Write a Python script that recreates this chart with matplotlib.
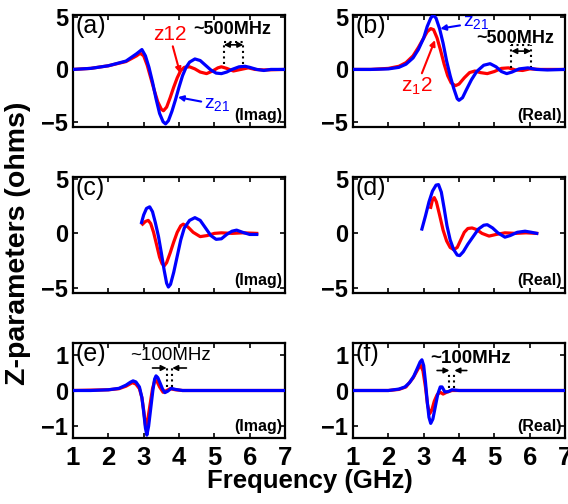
import matplotlib
matplotlib.use("Agg")
import matplotlib.pyplot as plt

plt.rcParams['font.family'] = ['Liberation Sans', 'DejaVu Sans']
plt.rcParams['mathtext.default'] = 'regular'

# ------------------------
# Data (frequency in GHz, Z in ohms)
# ------------------------
freq_ticks = [1, 2, 3, 4, 5, 6, 7]
big_yticks = [-5, 0, 5]
small_yticks = [-1, 0, 1]

# (a) imaginary part
a_blue_f = [1.0, 1.5, 2.0, 2.5, 2.8, 2.95, 3.05, 3.15, 3.25, 3.35, 3.45, 3.55, 3.62, 3.7, 3.8,
            3.9, 4.0, 4.1, 4.2, 4.3, 4.45, 4.6, 4.75, 4.9, 5.05, 5.2, 5.35, 5.5, 5.7, 5.87,
            6.0, 6.2, 6.4, 6.6, 7.0]
a_blue_z = [0.0, 0.1, 0.35, 0.8, 1.5, 1.9, 1.3, 0.2, -1.2, -2.8, -4.2, -5.0, -5.2, -4.9, -4.0,
            -2.9, -1.7, -0.6, 0.2, 0.7, 1.0, 0.85, 0.4, -0.05, -0.35, -0.4, -0.25, 0.0, 0.25, 0.3,
            0.2, 0.0, -0.1, 0.0, 0.0]
a_red_f = [1.0, 1.5, 2.0, 2.5, 2.8, 2.9, 3.0, 3.1, 3.2, 3.3, 3.4, 3.5, 3.56, 3.65, 3.75,
           3.85, 3.95, 4.05, 4.15, 4.3, 4.45, 4.6, 4.78, 4.95, 5.1, 5.2, 5.35, 5.54, 5.75, 5.96,
           6.15, 6.4, 7.0]
a_red_z = [0.0, 0.1, 0.35, 0.75, 1.3, 1.55, 1.3, 0.4, -0.8, -2.0, -3.1, -3.8, -3.95, -3.6, -2.7,
           -1.7, -0.8, -0.1, 0.2, 0.25, 0.05, -0.25, -0.4, -0.15, 0.15, 0.25, 0.1, -0.15, 0.0, 0.15,
           0.0, -0.05, 0.0]

# (b) real part
b_blue_f = [1.0, 1.5, 2.0, 2.3, 2.5, 2.7, 2.85, 3.0, 3.1, 3.2, 3.27, 3.35, 3.45, 3.55, 3.65,
            3.75, 3.85, 3.95, 4.0, 4.1, 4.2, 4.35, 4.5, 4.7, 4.88, 5.05, 5.2, 5.35, 5.5, 5.7,
            5.95, 6.2, 6.5, 7.0]
b_blue_z = [0.0, 0.0, 0.05, 0.2, 0.5, 1.1, 1.9, 3.0, 4.1, 4.9, 5.2, 4.9, 3.9, 2.5, 0.8,
            -0.6, -1.8, -2.8, -2.95, -2.7, -2.0, -1.0, -0.2, 0.4, 0.55, 0.25, -0.2, -0.4, -0.25, 0.05,
            0.15, 0.0, -0.05, 0.0]
b_red_f = [1.0, 1.5, 2.0, 2.3, 2.5, 2.7, 2.85, 3.0, 3.1, 3.2, 3.28, 3.38, 3.48, 3.58, 3.68,
           3.78, 3.9, 4.0, 4.15, 4.3, 4.45, 4.6, 4.8, 5.0, 5.2, 5.4, 5.6, 5.8, 6.0, 6.3, 7.0]
b_red_z = [0.0, 0.0, 0.1, 0.3, 0.65, 1.3, 2.1, 3.0, 3.6, 3.9, 3.8, 3.0, 1.8, 0.5, -0.6,
           -1.3, -1.55, -1.4, -0.8, -0.3, -0.15, -0.3, -0.4, -0.2, 0.1, 0.15, -0.05, -0.1, 0.05, 0.0, 0.0]

# (c) imaginary part
c_blue_f = [2.94, 3.0, 3.08, 3.17, 3.25, 3.33, 3.42, 3.5, 3.58, 3.65, 3.7, 3.76, 3.85, 3.95, 4.05,
            4.15, 4.3, 4.45, 4.6, 4.75, 4.9, 5.05, 5.2, 5.35, 5.5, 5.63, 5.8, 6.0, 6.2]
c_blue_z = [1.0, 1.7, 2.3, 2.45, 2.0, 1.0, -0.3, -1.8, -3.4, -4.6, -4.95, -4.7, -3.6, -2.1, -0.6,
            0.5, 1.2, 1.45, 1.2, 0.5, -0.2, -0.55, -0.5, -0.1, 0.2, 0.3, 0.1, -0.1, -0.1]
c_red_f = [2.97, 3.05, 3.13, 3.2, 3.28, 3.37, 3.45, 3.52, 3.58, 3.65, 3.75, 3.85, 3.95, 4.05, 4.12,
           4.25, 4.4, 4.6, 4.8, 5.0, 5.2, 5.5, 5.8, 6.2]
c_red_z = [0.85, 1.1, 1.2, 0.9, 0.1, -1.1, -2.2, -2.8, -3.0, -2.7, -1.8, -0.8, 0.1, 0.7, 0.85,
           0.6, 0.1, -0.3, -0.2, 0.0, 0.05, 0.0, 0.05, 0.0]

# (d) real part
d_blue_f = [2.95, 3.05, 3.15, 3.25, 3.35, 3.42, 3.5, 3.58, 3.66, 3.75, 3.85, 3.95, 4.02, 4.12, 4.25,
            4.4, 4.55, 4.7, 4.8, 4.95, 5.1, 5.3, 5.45, 5.65, 5.87, 6.05, 6.2]
d_blue_z = [0.4, 1.6, 2.9, 3.9, 4.45, 4.5, 3.8, 2.3, 0.7, -0.6, -1.5, -2.0, -2.05, -1.7, -1.0,
            -0.3, 0.4, 0.75, 0.8, 0.5, 0.05, -0.35, -0.2, 0.1, 0.2, 0.1, 0.0]
d_red_f = [3.2, 3.25, 3.3, 3.36, 3.45, 3.55, 3.65, 3.75, 3.85, 3.95, 4.05, 4.15, 4.25, 4.37, 4.5,
           4.65, 4.85, 5.05, 5.3, 5.6, 5.9, 6.2]
d_red_z = [2.4, 3.1, 3.3, 2.9, 1.7, 0.3, -0.7, -1.3, -1.5, -1.3, -0.6, 0.1, 0.45, 0.5, 0.35,
           0.0, -0.25, -0.1, 0.05, 0.0, 0.05, 0.0]

# (e) imaginary part, narrow band
e_blue_f = [1.0, 1.5, 2.0, 2.3, 2.5, 2.62, 2.7, 2.78, 2.88, 2.95, 3.0, 3.05, 3.09, 3.14, 3.2,
            3.26, 3.31, 3.35, 3.4, 3.46, 3.53, 3.6, 3.68, 3.78, 3.9, 4.1, 5.0, 6.0, 7.0]
e_blue_z = [0.0, 0.0, 0.02, 0.06, 0.15, 0.23, 0.27, 0.24, 0.1, -0.2, -0.6, -1.05, -1.25, -1.0, -0.5,
            0.0, 0.32, 0.41, 0.36, 0.22, 0.05, -0.06, -0.02, 0.06, 0.03, 0.0, 0.0, 0.0, 0.0]
e_red_f = [1.0, 2.0, 2.3, 2.5, 2.68, 2.78, 2.88, 2.95, 3.0, 3.06, 3.11, 3.18, 3.25, 3.32, 3.38,
           3.45, 3.55, 3.65, 3.75, 3.9, 4.1, 5.0, 6.0, 7.0]
e_red_z = [0.0, 0.02, 0.05, 0.12, 0.22, 0.18, 0.05, -0.2, -0.55, -1.05, -0.85, -0.4, 0.05, 0.3, 0.25,
           0.1, -0.05, 0.0, 0.05, 0.02, 0.0, 0.0, 0.0, 0.0]

# (f) real part, narrow band
f_blue_f = [1.0, 2.0, 2.3, 2.47, 2.6, 2.72, 2.82, 2.9, 2.95, 3.0, 3.05, 3.1, 3.15, 3.2, 3.26,
            3.33, 3.4, 3.47, 3.52, 3.6, 3.7, 3.8, 4.0, 5.0, 6.0, 7.0]
f_blue_z = [0.0, 0.0, 0.04, 0.1, 0.22, 0.4, 0.62, 0.8, 0.86, 0.7, 0.25, -0.3, -0.75, -0.92, -0.8,
            -0.45, -0.1, 0.1, 0.1, -0.04, -0.03, 0.02, 0.0, 0.0, 0.0, 0.0]
f_red_f = [1.0, 2.0, 2.3, 2.5, 2.7, 2.85, 2.92, 2.98, 3.05, 3.11, 3.17, 3.23, 3.3, 3.38, 3.47,
           3.55, 3.65, 3.8, 5.0, 6.0, 7.0]
f_red_z = [0.0, 0.0, 0.03, 0.1, 0.35, 0.62, 0.7, 0.55, 0.1, -0.4, -0.65, -0.55, -0.3, -0.12, -0.05,
           -0.1, -0.05, 0.0, 0.0, 0.0, 0.0]

W, H = 568, 504
fig = plt.figure(figsize=(W / 100, H / 100), dpi=100)


def px_axes(x0, y0, x1, y1):
    return fig.add_axes([x0 / W, 1 - y1 / H, (x1 - x0) / W, (y1 - y0) / H])


def draw_panel(ax, label, part, bf, bz, rf, rz, ylim, yticks, show_x):
    ax.plot(rf, rz, color=(1, 0, 0), lw=2.3, zorder=2)
    ax.plot(bf, bz, color=(0, 0, 1), lw=2.3, zorder=3)
    ax.set_xlim(1, 7)
    ax.set_ylim(*ylim)
    ax.set_xticks(freq_ticks)
    ax.set_yticks(yticks)
    ax.tick_params(direction="in", top=True, right=True, length=3.5, width=1.2,
                   labelsize=17, pad=3.5)
    ax.tick_params(axis="x", labelsize=18.5, pad=6)
    if not show_x:
        ax.set_xticklabels([])
    for lab in ax.get_xticklabels() + ax.get_yticklabels():
        lab.set_fontweight("bold")
    for sp in ax.spines.values():
        sp.set_linewidth(1.6)
    ax.text(0.01, 1.01, label, transform=ax.transAxes, fontsize=18, va="top", ha="left")
    ax.text(0.985, 0.04, part, transform=ax.transAxes, fontsize=11.5, fontweight="bold",
            va="bottom", ha="right")


def bracket(ax, x1, x2, y0, y1, ya, inward=False, top=True):
    ax.plot([x1, x1], [y0, y1], ":", color="k", lw=1.5)
    ax.plot([x2, x2], [y0, y1], ":", color="k", lw=1.5)
    if top:
        ax.plot([x1, x2], [y1, y1], ":", color="k", lw=1.5)
    if inward:
        d = (x2 - x1) * 2.5
        for xs, xe in ((x1 - d, x1), (x2 + d, x2)):
            ax.annotate("", xy=(xe, ya), xytext=(xs, ya),
                        arrowprops=dict(arrowstyle="-|>", color="k", lw=1.2, mutation_scale=8,
                                        shrinkA=0, shrinkB=0))
    else:
        ax.annotate("", xy=(x2, ya), xytext=(x1, ya),
                    arrowprops=dict(arrowstyle="<|-|>", color="k", lw=1.2, mutation_scale=8,
                                    shrinkA=0, shrinkB=0))


big_lim = (-5.5, 5.2)
small_lim = (-1.33, 1.33)

ax_a = px_axes(73, 15, 285, 127)
ax_b = px_axes(353, 15, 565, 127)
ax_c = px_axes(73, 177, 285, 293)
ax_d = px_axes(353, 177, 565, 293)
ax_e = px_axes(73, 343, 285, 438)
ax_f = px_axes(353, 343, 565, 438)

draw_panel(ax_a, "(a)", "(Imag)", a_blue_f, a_blue_z, a_red_f, a_red_z, big_lim, big_yticks, False)
draw_panel(ax_b, "(b)", "(Real)", b_blue_f, b_blue_z, b_red_f, b_red_z, big_lim, big_yticks, False)
draw_panel(ax_c, "(c)", "(Imag)", c_blue_f, c_blue_z, c_red_f, c_red_z, big_lim, big_yticks, False)
draw_panel(ax_d, "(d)", "(Real)", d_blue_f, d_blue_z, d_red_f, d_red_z, big_lim, big_yticks, False)
draw_panel(ax_e, "(e)", "(Imag)", e_blue_f, e_blue_z, e_red_f, e_red_z, small_lim, small_yticks, True)
draw_panel(ax_f, "(f)", "(Real)", f_blue_f, f_blue_z, f_red_f, f_red_z, small_lim, small_yticks, True)

arrow_red = dict(arrowstyle="-|>", color=(1, 0, 0), lw=1.5, mutation_scale=8, shrinkA=0, shrinkB=0)
arrow_blue = dict(arrowstyle="-|>", color=(0, 0, 1), lw=1.5, mutation_scale=8, shrinkA=0, shrinkB=0)

# (a) annotations
ax_a.annotate("z12", xy=(4.03, -0.35), xytext=(0.455, 0.83), textcoords="axes fraction",
              color=(1, 0, 0), fontsize=15, ha="center", va="center", arrowprops=arrow_red)
ax_a.annotate("z$_{21}$", xy=(3.97, -2.65), xytext=(0.68, 0.2), textcoords="axes fraction",
              color=(0, 0, 1), fontsize=14, ha="center", va="center", arrowprops=arrow_blue)
ax_a.text(0.75, 0.875, "~500MHz", transform=ax_a.transAxes, fontsize=13, fontweight="bold",
          ha="center", va="center")
bracket(ax_a, 5.27, 5.82, 0.5, 2.6, 2.35)

# (b) annotations
ax_b.annotate("z$_{21}$", xy=(3.47, 3.9), xytext=(0.58, 0.93), textcoords="axes fraction",
              color=(0, 0, 1), fontsize=14, ha="center", va="center", arrowprops=arrow_blue)
ax_b.annotate("z$_{1}$2", xy=(3.32, 2.8), xytext=(0.3, 0.36), textcoords="axes fraction",
              color=(1, 0, 0), fontsize=15, ha="center", va="center", arrowprops=arrow_red)
ax_b.text(0.765, 0.79, "~500MHz", transform=ax_b.transAxes, fontsize=13, fontweight="bold",
          ha="center", va="center")
bracket(ax_b, 5.48, 6.04, 0.1, 2.35, 1.75)

# (e), (f) annotations
ax_e.text(0.46, 0.87, "~100MHz", transform=ax_e.transAxes, fontsize=13.5, ha="center", va="center")
bracket(ax_e, 3.65, 3.81, 0.1, 0.67, 0.63, inward=True, top=False)
ax_f.text(0.555, 0.84, "~100MHz", transform=ax_f.transAxes, fontsize=13.5, fontweight="bold",
          ha="center", va="center")
bracket(ax_f, 3.73, 3.87, 0.07, 0.5, 0.56, inward=True, top=False)

fig.text(18 / W, 1 - 243 / H, "Z-parameters (ohms)", rotation=90, fontsize=20.5, fontweight="bold",
         ha="center", va="center")
fig.text(310 / W, 1 - 481 / H, "Frequency (GHz)", fontsize=18.5, fontweight="bold",
         ha="center", va="center")

plt.savefig("out.png", dpi=100)
